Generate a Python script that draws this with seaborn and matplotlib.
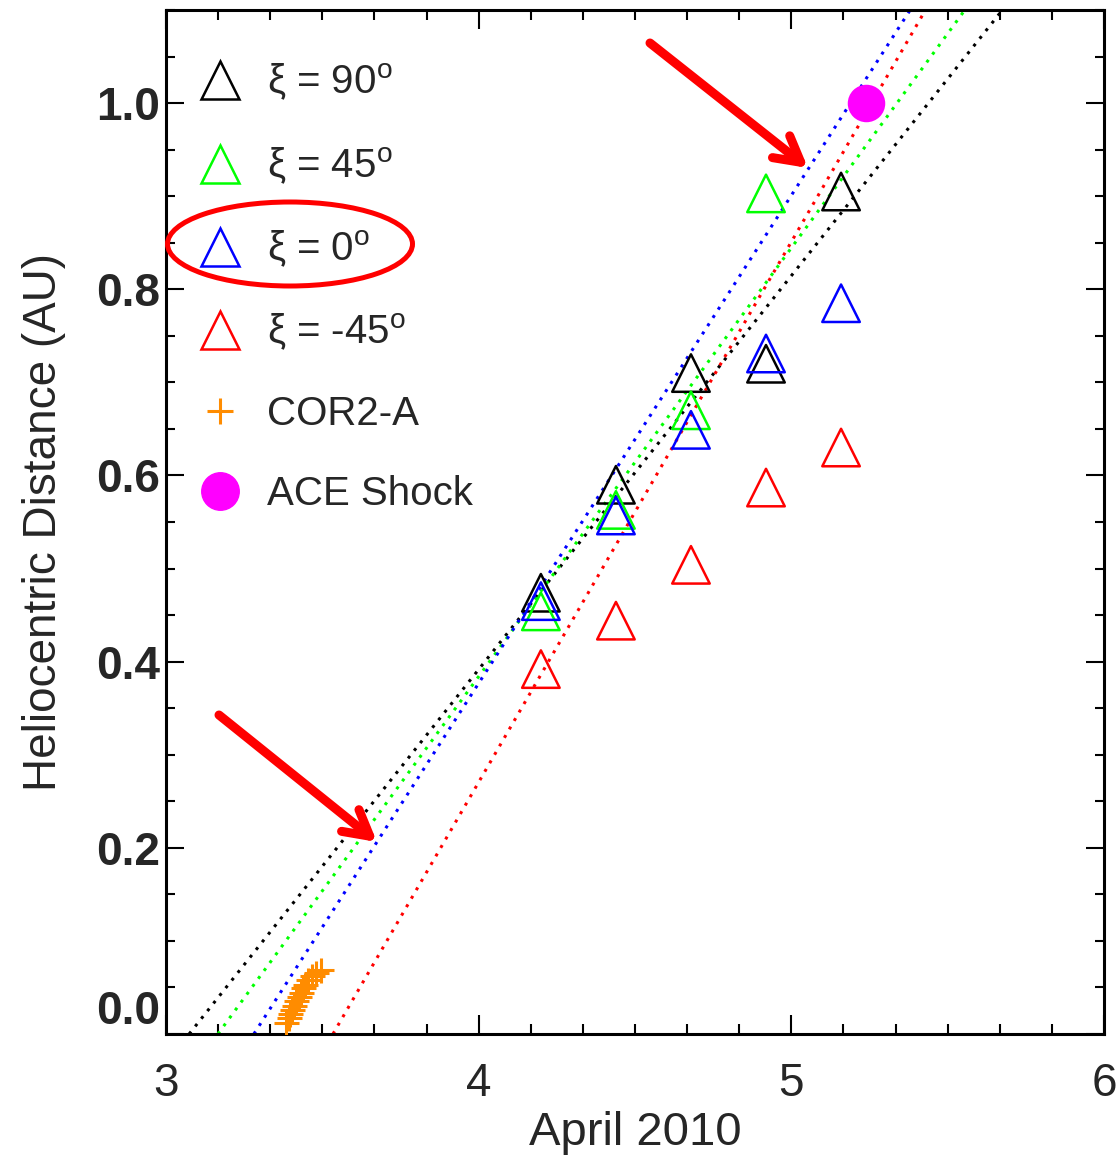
import numpy as np
import pandas as pd
import matplotlib
matplotlib.use("Agg")
import matplotlib.pyplot as plt
import seaborn as sns
from matplotlib.patches import Ellipse
from matplotlib.lines import Line2D
from matplotlib.ticker import MultipleLocator

# ---------------- data ----------------
days = [4.199, 4.439, 4.679, 4.919, 5.159]
r_xi90 = [0.474, 0.590, 0.710, 0.720, 0.905]
r_xi45 = [0.454, 0.563, 0.670, 0.903, np.nan]
r_xi0 = [0.465, 0.557, 0.649, 0.731, 0.785]
r_xim45 = [0.392, 0.444, 0.504, 0.587, 0.630]

cor2_days = [3.385, 3.392, 3.398, 3.404, 3.410, 3.417, 3.424, 3.431,
             3.438, 3.446, 3.455, 3.466, 3.480, 3.497]
cor2_r = [0.012, 0.017, 0.021, 0.026, 0.030, 0.035, 0.040, 0.044,
          0.049, 0.053, 0.058, 0.062, 0.066, 0.069]

ace_day = [5.239]
ace_r = [1.0]

series_names = ["ξ = 90$^{\\mathrm{o}}$", "ξ = 45$^{\\mathrm{o}}$",
                "ξ = 0$^{\\mathrm{o}}$", "ξ = -45$^{\\mathrm{o}}$"]
series_values = [r_xi90, r_xi45, r_xi0, r_xim45]
series_colors = ["#000000", "#00ff00", "#0000ff", "#ff0000"]

fit_start_day = [3.074, 3.166, 3.281, 3.534]   # R = 0
fit_end_day = [5.675, 5.555, 5.380, 5.429]     # R = 1.1
fit_r = [0.0, 1.1]

xtick_vals = [3, 4, 5, 6]
xtick_labels = ["3", "4", "5", "6"]
ytick_vals = [0.0, 0.2, 0.4, 0.6, 0.8, 1.0]
ytick_labels = ["0.0", "0.2", "0.4", "0.6", "0.8", "1.0"]

# ---------------- style ----------------
sns.set_style("ticks")
plt.rcParams["font.family"] = ["Liberation Sans", "DejaVu Sans"]
plt.rcParams["mathtext.fontset"] = "custom"
plt.rcParams["mathtext.rm"] = "Liberation Sans"
plt.rcParams["mathtext.it"] = "Liberation Sans:italic"
plt.rcParams["mathtext.bf"] = "Liberation Sans:bold"

W, H = 1119, 1159
fig = plt.figure(figsize=(W / 100, H / 100), dpi=100)
ax = fig.add_axes([166 / W, 1 - 1034 / H, (1104 - 166) / W, (1034 - 10) / H])

# fit lines
for s, e, c in zip(fit_start_day, fit_end_day, series_colors):
    sns.lineplot(x=[s, e], y=fit_r, color=c, lw=2.2,
                 linestyle=(0, (1, 2.2)), ax=ax)

# triangles
for vals, c in zip(series_values, series_colors):
    df = pd.DataFrame({"day": days, "r": vals}).dropna()
    sns.scatterplot(data=df, x="day", y="r", marker="^", s=27 ** 2,
                    facecolor="none", edgecolor=c, linewidth=1.8, ax=ax,
                    zorder=3)

# COR2-A
sns.scatterplot(x=cor2_days, y=cor2_r, marker="+", s=18 ** 2,
                color="#ff8c00", linewidth=2.2, ax=ax, zorder=3)

# ACE shock
sns.scatterplot(x=ace_day, y=ace_r, marker="o", s=27 ** 2,
                color="#ff00ff", edgecolor="#ff00ff", linewidth=0, ax=ax,
                zorder=4)

ax.set_xlim(3, 6)
ax.set_ylim(0, 1.1)
ax.set_xticks(xtick_vals, xtick_labels)
ax.set_yticks(ytick_vals, ytick_labels)
ax.xaxis.set_minor_locator(MultipleLocator(1 / 6))
ax.yaxis.set_minor_locator(MultipleLocator(0.05))
ax.tick_params(axis="both", which="both", direction="in", top=True,
               right=True, width=1.5, color="black")
ax.tick_params(axis="x", which="major", length=14, pad=20, labelsize=33)
ax.tick_params(axis="x", which="minor", length=7)
ax.tick_params(axis="y", which="major", length=13, pad=4, labelsize=33)
ax.tick_params(axis="y", which="minor", length=6.5)
for lab in ax.get_yticklabels():
    lab.set_fontweight("bold")
ax.get_yticklabels()[0].set_va("bottom")
for sp in ax.spines.values():
    sp.set_linewidth(2.2)
    sp.set_color("black")

ax.set_xlabel("April 2010", fontsize=34, labelpad=4)
ax.set_ylabel("Heliocentric Distance (AU)", fontsize=33, labelpad=22)

# legend
handles = []
for c in series_colors:
    handles.append(Line2D([], [], marker="^", ms=27, mfc="none", mec=c,
                          mew=1.8, ls="none"))
handles.append(Line2D([], [], marker="+", ms=19, color="#ff8c00",
                      mew=2.2, ls="none"))
handles.append(Line2D([], [], marker="o", ms=27, mfc="#ff00ff",
                      mec="#ff00ff", ls="none"))
labels = series_names + ["COR2-A", "ACE Shock"]
ax.legend(handles, labels, loc="upper left",
          bbox_to_anchor=(34 / 938, 1 - 52 / 1024), frameon=False,
          fontsize=29, handlelength=1.0, handletextpad=0.67,
          labelspacing=1.04, borderpad=0, borderaxespad=0)

# annotations: ellipse and arrows (figure pixels)
ell = Ellipse((290 / W, 1 - 244 / H), 245 / W, 84 / H,
              transform=fig.transFigure, fill=False, ec="red", lw=3.6)
fig.add_artist(ell)
arrow_kw = dict(arrowstyle="->, head_length=0.9, head_width=0.5",
                color="red", lw=6.5, mutation_scale=20, shrinkA=0, shrinkB=0)
ax.annotate("", xy=(808, H - 168), xytext=(650, H - 43),
            xycoords="figure pixels", textcoords="figure pixels",
            arrowprops=arrow_kw)
ax.annotate("", xy=(377, H - 842), xytext=(219, H - 715),
            xycoords="figure pixels", textcoords="figure pixels",
            arrowprops=arrow_kw)

fig.savefig("out.png", dpi=100)
